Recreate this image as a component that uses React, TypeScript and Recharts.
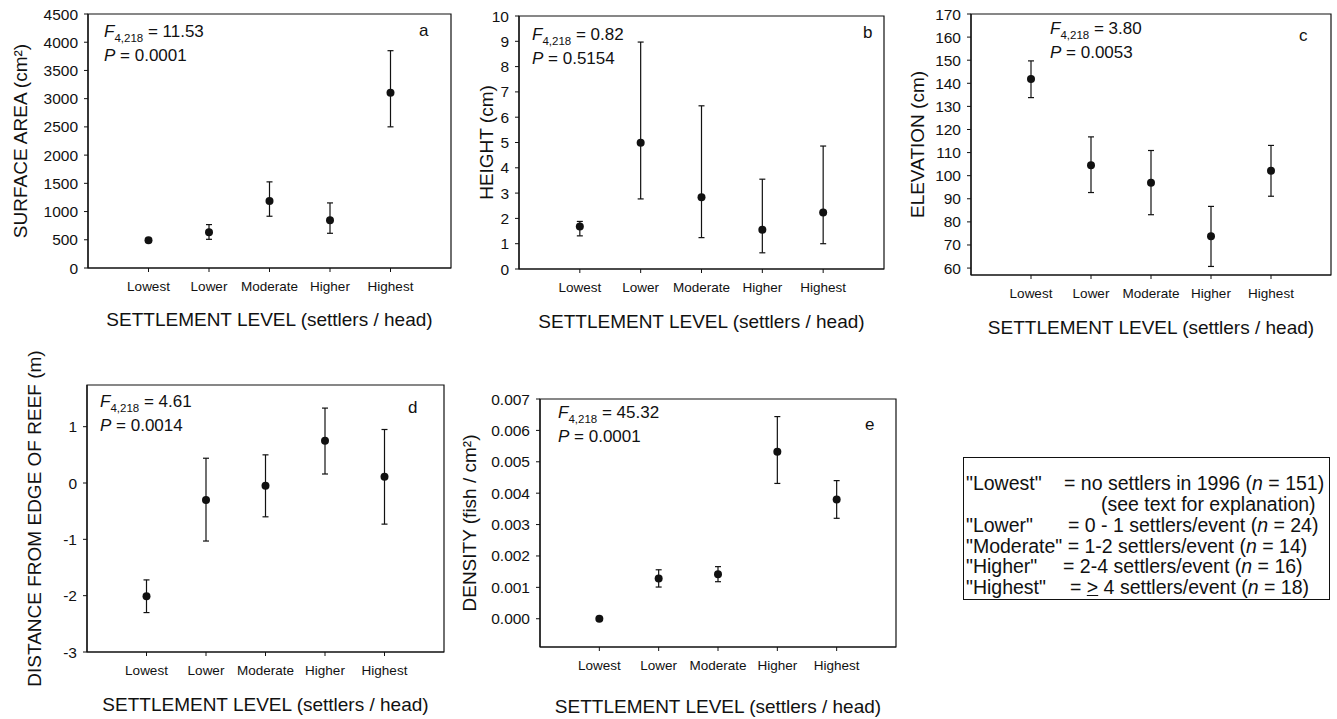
import React from 'react'
import {
  ScatterChart,
  Scatter,
  XAxis,
  YAxis,
  ErrorBar,
  ReferenceArea,
} from 'recharts'

// settlement categories, placed at 1..5 on a 0..6 axis
const LEVELS = ['Lowest', 'Lower', 'Moderate', 'Higher', 'Highest']
const LEVEL_POS = [1, 2, 3, 4, 5]

// a - surface area (cm2)
const AREA_MEAN = [490, 633, 1189, 846, 3105]
const AREA_LOW = [455, 508, 917, 615, 2501]
const AREA_HIGH = [525, 769, 1526, 1153, 3850]
const AREA_TICKS = [0, 500, 1000, 1500, 2000, 2500, 3000, 3500, 4000, 4500]

// b - height (cm)
const HEIGHT_MEAN = [1.68, 4.99, 2.84, 1.55, 2.23]
const HEIGHT_LOW = [1.31, 2.77, 1.24, 0.64, 1.0]
const HEIGHT_HIGH = [1.88, 8.97, 6.45, 3.55, 4.86]
const HEIGHT_TICKS = [0, 1, 2, 3, 4, 5, 6, 7, 8, 9, 10]

// c - elevation (cm)
const ELEV_MEAN = [141.9, 104.5, 96.9, 73.8, 102.1]
const ELEV_LOW = [133.8, 92.7, 83.1, 60.7, 91.1]
const ELEV_HIGH = [149.7, 116.8, 110.9, 86.7, 113.1]
const ELEV_TICKS = [60, 70, 80, 90, 100, 110, 120, 130, 140, 150, 160, 170]

// d - distance from edge of reef (m)
const DIST_MEAN = [-2.01, -0.3, -0.05, 0.75, 0.11]
const DIST_LOW = [-2.3, -1.03, -0.6, 0.16, -0.73]
const DIST_HIGH = [-1.72, 0.44, 0.5, 1.33, 0.95]
const DIST_TICKS = [-3, -2, -1, 0, 1]

// e - density (fish / cm2)
const DENS_MEAN = [0, 0.00128, 0.00142, 0.00532, 0.0038]
const DENS_LOW = [0, 0.00101, 0.00118, 0.00431, 0.0032]
const DENS_HIGH = [0, 0.00156, 0.00166, 0.00644, 0.0044]
const DENS_TICKS = [0, 0.001, 0.002, 0.003, 0.004, 0.005, 0.006, 0.007]

const FONT = '"Liberation Sans", Arial, Helvetica, sans-serif'
const INK = '#111'

const buildRows = (mean: number[], low: number[], high: number[]) =>
  LEVELS.map((name, i) => ({
    name,
    x: LEVEL_POS[i],
    y: mean[i],
    err: [mean[i] - low[i], high[i] - mean[i]],
  }))

const Dot = (p: any) => <circle cx={p.cx} cy={p.cy} r={4} fill={INK} />

type PanelProps = {
  plot: { left: number; top: number; right: number; bottom: number }
  rows: Array<{ x: number; y: number; err: number[] }>
  domain: [number, number]
  ticks: number[]
  fmt?: (v: number) => string
  yTitle: string
  yTitleX: number
  xTitleGap: number
  padTop?: number
}

const Y_W = 90
const PAD = 12
const X_H = 75

function Panel({ plot, rows, domain, ticks, fmt, yTitle, yTitleX, xTitleGap, padTop = PAD }: PanelProps) {
  const w = plot.right - plot.left
  const h = plot.bottom - plot.top
  const chartLeft = plot.left - Y_W
  return (
    <div style={{ position: 'absolute', left: chartLeft, top: plot.top - padTop }}>
      <ScatterChart
        width={w + Y_W + PAD}
        height={h + padTop + X_H}
        margin={{ top: padTop, right: PAD, left: 0, bottom: 0 }}
        style={{ fontFamily: FONT }}
      >
        <XAxis
          type="number"
          dataKey="x"
          domain={[0, 6]}
          ticks={LEVEL_POS}
          interval={0}
          allowDataOverflow
          tickFormatter={(v: number) => LEVELS[v - 1]}
          height={X_H}
          axisLine={{ stroke: INK, strokeWidth: 1.2 }}
          tickLine={{ stroke: INK }}
          tickSize={4}
          tickMargin={9}
          tick={{ fill: INK, fontSize: 13.5 }}
          label={{
            value: 'SETTLEMENT LEVEL (settlers / head)',
            position: 'insideTop',
            offset: xTitleGap,
            fill: INK,
            fontSize: 19,
          }}
        />
        <YAxis
          type="number"
          dataKey="y"
          domain={domain}
          ticks={ticks}
          interval={0}
          allowDataOverflow
          width={Y_W}
          tickFormatter={fmt}
          axisLine={{ stroke: INK, strokeWidth: 1.2 }}
          tickLine={{ stroke: INK }}
          tickSize={4}
          tickMargin={6}
          tick={{ fill: INK, fontSize: 15.5 }}
          label={{
            value: yTitle,
            angle: -90,
            position: 'insideLeft',
            offset: yTitleX - chartLeft,
            fill: INK,
            fontSize: 19,
            style: { textAnchor: 'middle' },
          }}
        />
        <ReferenceArea
          x1={0}
          x2={6}
          y1={domain[0]}
          y2={domain[1]}
          fill="none"
          stroke={INK}
          strokeWidth={1.2}
          ifOverflow="visible"
        />
        <Scatter data={rows} shape={Dot} isAnimationActive={false}>
          <ErrorBar
            dataKey="err"
            direction="y"
            width={3}
            stroke={INK}
            strokeWidth={1.2}
            isAnimationActive={false}
          />
        </Scatter>
      </ScatterChart>
    </div>
  )
}

// F / P annotation and panel letter, drawn over the plot
function Stats({ x, y, f, p }: { x: number; y: number; f: string; p: string }) {
  const line: React.CSSProperties = {
    position: 'absolute',
    left: x,
    fontSize: 17,
    lineHeight: '20px',
    whiteSpace: 'nowrap',
    color: INK,
  }
  return (
    <>
      <div style={{ ...line, top: y - 10 }}>
        <i>F</i>
        <span style={{ fontSize: 11.5, position: 'relative', top: 5 }}>4,218</span> = {f}
      </div>
      <div style={{ ...line, top: y + 14 }}>
        <i>P</i> = {p}
      </div>
    </>
  )
}

function Letter({ x, y, t }: { x: number; y: number; t: string }) {
  return (
    <div
      style={{
        position: 'absolute',
        left: x - 5,
        top: y - 12,
        fontSize: 17,
        lineHeight: '20px',
        color: INK,
      }}
    >
      {t}
    </div>
  )
}

// key to the settlement levels
const KEY_LABELS = ['"Lowest"', '', '"Lower"', '"Moderate"', '"Higher"', '"Highest"']
const KEY_DEF_X = [1064, 1101, 1068, 0, 1063, 1070]
const KEY_Y = [483, 504, 525, 546, 566, 587]
const KEY_DEFS = [
  <>= no settlers in 1996 (<i>n</i> = 151)</>,
  <>(see text for explanation)</>,
  <>= 0 - 1 settlers/event (<i>n</i> = 24)</>,
  <> = 1-2 settlers/event (<i>n</i> = 14)</>,
  <>= 2-4 settlers/event (<i>n</i> = 16)</>,
  <>= <span style={{ textDecoration: 'underline' }}>&gt;</span> 4 settlers/event (<i>n</i> = 18)</>,
]

function Key() {
  const left = 963
  const top = 457
  return (
    <div
      style={{
        position: 'absolute',
        left,
        top,
        width: 367,
        height: 143,
        border: `1px solid ${INK}`,
        boxSizing: 'border-box',
        fontSize: 19.5,
        lineHeight: '21px',
        color: INK,
      }}
    >
      {KEY_LABELS.map((label, i) => (
        <div
          key={i}
          style={{
            position: 'absolute',
            top: KEY_Y[i] - 10 - top - 1,
            left: 0,
            height: 21,
            whiteSpace: 'nowrap',
          }}
        >
          {KEY_DEF_X[i] === 0 ? (
            <span style={{ position: 'absolute', left: 2 }}>
              {label}
              {KEY_DEFS[i]}
            </span>
          ) : (
            <>
              {label && <span style={{ position: 'absolute', left: 2 }}>{label}</span>}
              <span style={{ position: 'absolute', left: KEY_DEF_X[i] - left - 1 }}>{KEY_DEFS[i]}</span>
            </>
          )}
        </div>
      ))}
    </div>
  )
}

export default function App() {
  return (
    <div
      style={{
        position: 'absolute',
        left: 0,
        top: 0,
        width: 1337,
        height: 719,
        background: '#fff',
        overflow: 'hidden',
        fontFamily: FONT,
      }}
    >
      <Panel
        plot={{ left: 88, top: 14, right: 451, bottom: 268 }}
        rows={buildRows(AREA_MEAN, AREA_LOW, AREA_HIGH)}
        domain={[0, 4500]}
        ticks={AREA_TICKS}
        yTitle="SURFACE AREA (cm²)"
        yTitleX={20}
        xTitleGap={45}
      />
      <Panel
        plot={{ left: 519, top: 16, right: 884, bottom: 269 }}
        rows={buildRows(HEIGHT_MEAN, HEIGHT_LOW, HEIGHT_HIGH)}
        domain={[0, 10]}
        ticks={HEIGHT_TICKS}
        yTitle="HEIGHT (cm)"
        yTitleX={486}
        xTitleGap={46}
      />
      <Panel
        plot={{ left: 971, top: 14, right: 1331, bottom: 275 }}
        rows={buildRows(ELEV_MEAN, ELEV_LOW, ELEV_HIGH)}
        domain={[57, 170]}
        ticks={ELEV_TICKS}
        yTitle="ELEVATION (cm)"
        yTitleX={917}
        xTitleGap={46}
      />
      <Panel
        plot={{ left: 87, top: 385, right: 444, bottom: 652 }}
        rows={buildRows(DIST_MEAN, DIST_LOW, DIST_HIGH)}
        domain={[-3, 1.74]}
        ticks={DIST_TICKS}
        yTitle="DISTANCE FROM EDGE OF REEF (m)"
        yTitleX={34}
        xTitleGap={46}
        padTop={45}
      />
      <Panel
        plot={{ left: 540, top: 399, right: 896, bottom: 647 }}
        rows={buildRows(DENS_MEAN, DENS_LOW, DENS_HIGH)}
        domain={[-0.0009, 0.007]}
        ticks={DENS_TICKS}
        fmt={(v: number) => v.toFixed(3)}
        yTitle="DENSITY (fish / cm²)"
        yTitleX={469}
        xTitleGap={53}
      />

      <Stats x={104} y={32} f="11.53" p="0.0001" />
      <Letter x={424} y={33} t="a" />
      <Stats x={532} y={35} f="0.82" p="0.5154" />
      <Letter x={868} y={35} t="b" />
      <Stats x={1050} y={29} f="3.80" p="0.0053" />
      <Letter x={1304} y={38} t="c" />
      <Stats x={100} y={402} f="4.61" p="0.0014" />
      <Letter x={413} y={410} t="d" />
      <Stats x={558} y={413} f="45.32" p="0.0001" />
      <Letter x={870} y={427} t="e" />

      <Key />
    </div>
  )
}
